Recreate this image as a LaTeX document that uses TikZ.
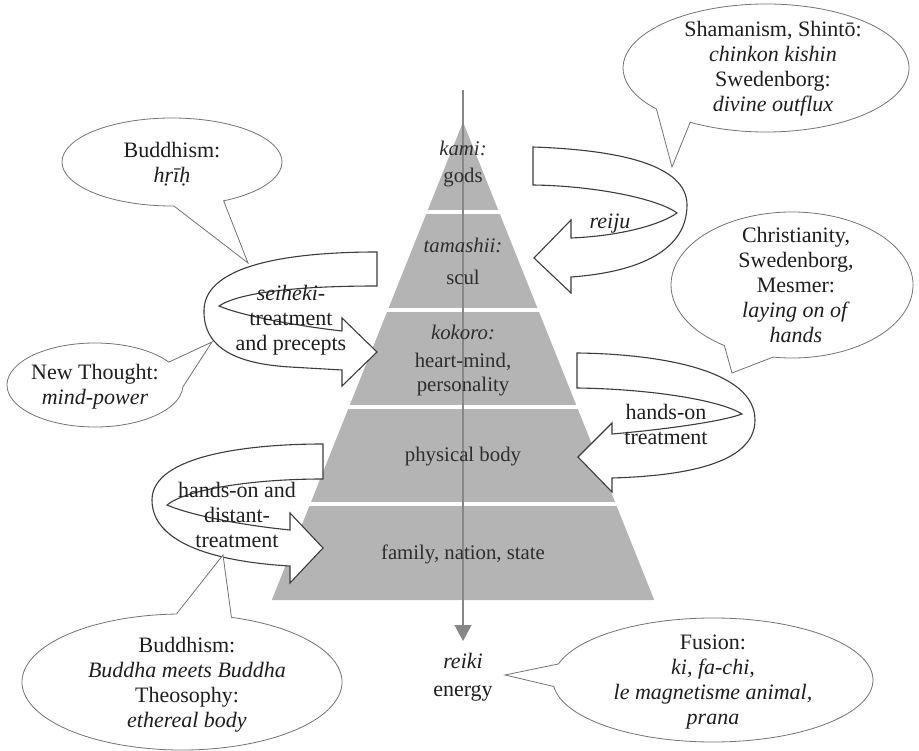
\documentclass[tikz,border=0pt]{standalone}
\usepackage{fontspec}
\setmainfont{Liberation Serif}
\usetikzlibrary{arrows.meta}
\definecolor{pyr}{RGB}{180,180,180}
\definecolor{axisgray}{RGB}{135,135,135}
\definecolor{ribline}{RGB}{60,60,60}
\definecolor{bubline}{RGB}{115,115,115}
\definecolor{ink}{RGB}{30,30,30}
\definecolor{ink2}{RGB}{45,45,45}

% speech bubble: centre x, centre y, x radius, y radius, start/end angle of the arc, tip
\newcommand{\speechbubble}[7]{%
  \draw[bubble] (#7) -- ({#1+#3*cos(#5)},{#2+#4*sin(#5)})
    arc[start angle=#5,end angle=#6,x radius=#3,y radius=#4] -- cycle;}

\begin{document}
\begin{tikzpicture}[x=1pt,y=-1pt,
  ribbon/.style={draw=ribline,fill=white,line width=1.1pt,line join=miter},
  bubble/.style={draw=bubline,fill=white,line width=0.8pt},
  btext/.style={font=\fontsize{22}{25}\selectfont,text=ink,align=center,inner sep=0pt},
  ptext/.style={font=\fontsize{20.8}{24}\selectfont,text=ink2,align=center,inner sep=0pt},
  pital/.style={ptext,font=\fontsize{20.8}{24}\selectfont\itshape},
  axisline/.style={draw=axisgray,line width=1.3pt,
    -{Triangle[length=16pt,width=17pt,fill=axisgray]}}
]
\useasboundingbox (0,0) rectangle (919,751);

% --- layered pyramid ---
\fill[pyr] (463,122) -- (654.2,600) -- (271.8,600) -- cycle;
\foreach \yy in {212,310,407.5,504}
  \draw[white,line width=4pt] (250,\yy) -- (680,\yy);

% --- vertical axis down to reiki energy ---
\coordinate (axtop) at (463,90);
\coordinate (axbot) at (463,641);
\draw[axisline] (axtop) -- (axbot);

% --- pyramid labels ---
\node[pital] (kami) at (463,148) {kami:};
\node[ptext] (gods) at (463,178) {gods};
\node[pital] (tamashii) at (463,245) {tamashii:};
\node[ptext] (soul) at (463,277) {scul};
\node[pital] (kokoro) at (463,332) {kokoro:};
\node[ptext] (heart) at (463,375) {heart-mind,\\personality};
\node[ptext] (body) at (463,457) {physical body};
\node[ptext] (family) at (463,554) {family, nation, state};

% --- looping ribbon arrows ---
% reiju (right, pointing left into the soul layer)
\draw[ribbon] (533,147) .. controls (620,150) and (687,165) .. (687,205)
  .. controls (687,250) and (640,272) .. (571,277) -- (571,293) -- (534,258)
  -- (571,220) -- (571,238)
  .. controls (620,236) and (660,225) .. (677,213)
  .. controls (660,200) and (600,186) .. (533,185) -- cycle;
% seiheki (left, pointing right into the heart-mind layer)
\draw[ribbon] (377,252) .. controls (300,252) and (205,262) .. (204,310)
  .. controls (203,350) and (240,364) .. (290,367) -- (342,370) -- (342,386)
  -- (377,352) -- (342,318) -- (342,331)
  .. controls (290,325) and (240,315) .. (219,306)
  .. controls (240,292) and (300,286) .. (377,286) -- cycle;
% hands-on treatment (right, pointing left into the body layer)
\draw[ribbon] (577,353) .. controls (660,354) and (755,370) .. (755,420)
  .. controls (755,465) and (680,476) .. (612,478) -- (612,492) -- (578,457)
  -- (612,423) -- (612,434)
  .. controls (660,430) and (720,422) .. (742,414)
  .. controls (720,400) and (650,389) .. (577,388) -- cycle;
% hands-on and distant treatment (left, pointing right into the base layer)
\draw[ribbon] (323,444) .. controls (250,444) and (152,455) .. (152,500)
  .. controls (152,545) and (220,562) .. (290,566) -- (290,583) -- (323,548)
  -- (290,513) -- (290,530)
  .. controls (240,525) and (190,515) .. (167,505)
  .. controls (185,490) and (250,479) .. (323,479) -- cycle;

\node[btext] (reijuT) at (610,224) {\textit{reiju}};
\node[btext] (seihekiT) at (291,320) {\textit{seiheki-}\\treatment\\and precepts};
\node[btext] (handsT) at (666,424) {hands-on\\treatment};
\node[btext] (distT) at (237,515) {hands-on and\\distant-\\treatment};

% --- speech bubbles ---
\coordinate (tipShaman) at (672,167);
\coordinate (tipChrist) at (732,373);
\coordinate (tipHrih) at (248,263);
\coordinate (tipNew) at (212,342);
\coordinate (tipBuddha) at (223,555);
\coordinate (tipFusion) at (505,675);

\speechbubble{766}{68}{143}{64}{122}{-220}{tipShaman}
\speechbubble{792}{285}{121}{73}{99}{-236}{tipChrist}
\speechbubble{172}{162}{110}{44}{62}{-271}{tipHrih}
\speechbubble{95}{385}{88}{42}{-33}{-357.5}{tipNew}
\speechbubble{182}{682}{160}{68}{-72}{268}{tipBuddha}
\speechbubble{713}{680}{160}{62}{174}{-165}{tipFusion}

\node[btext] (shamanT) at (773,69) {Shamanism, Shintō:\\\textit{chinkon kishin}\\Swedenborg:\\\textit{divine outflux}};
\node[btext] (christT) at (796,285) {Christianity,\\Swedenborg,\\Mesmer:\\\textit{laying on of}\\\textit{hands}};
\node[btext] (hrihT) at (172,164) {Buddhism:\\\textit{hṛīḥ}};
\node[btext] (newT) at (95,387) {New Thought:\\\textit{mind-power}};
\node[btext] (buddhaT) at (187,685) {Buddhism:\\\textit{Buddha meets Buddha}\\Theosophy:\\\textit{ethereal body}};
\node[btext] (fusionT) at (713,682) {Fusion:\\\textit{ki, fa-chi,}\\\textit{le magnetisme animal,}\\\textit{prana}};
\node[btext] (reikiT) at (463,677) {\textit{reiki}\\[3pt]energy};
\end{tikzpicture}
\end{document}
